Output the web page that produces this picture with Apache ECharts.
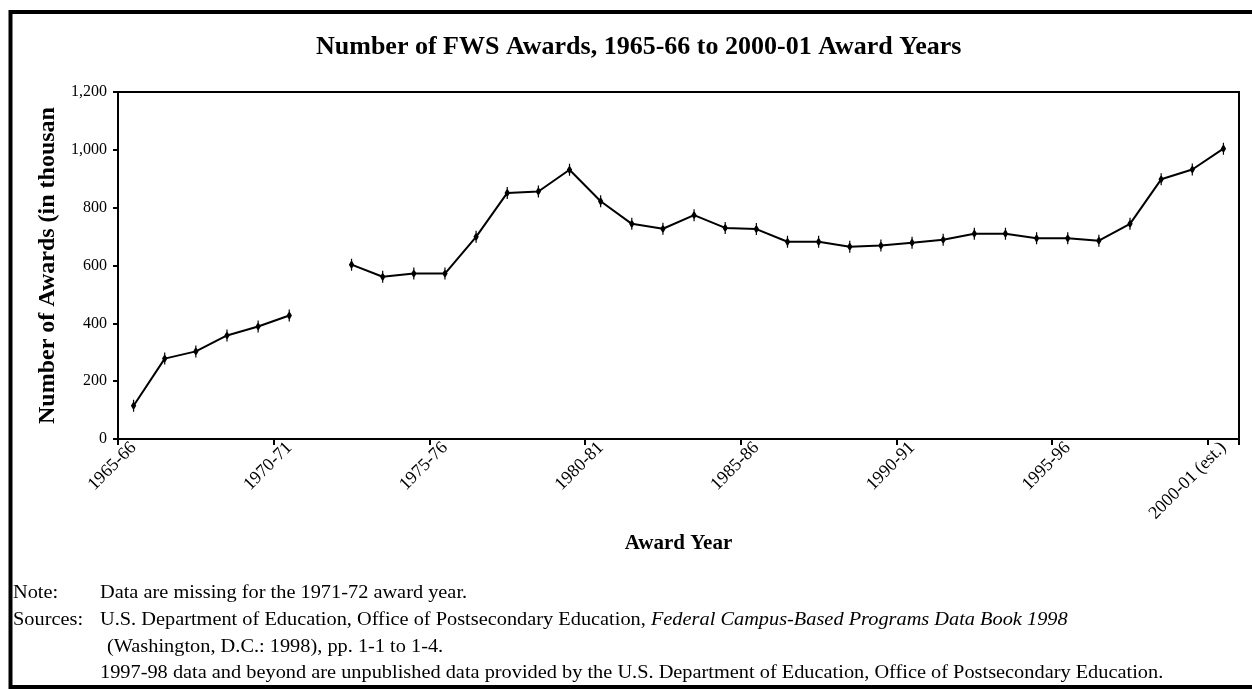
<!DOCTYPE html>
<html>
<head>
<meta charset="utf-8">
<script src="https://cdn.jsdelivr.net/npm/echarts@6/dist/echarts.min.js"></script>
<style>
html,body{margin:0;padding:0;background:#fff;}
#chart{width:1252px;height:689px;}
</style>
</head>
<body>
<div id="chart"></div>
<script>
// ---- data ----
const categories = [
  "1965-66","1966-67","1967-68","1968-69","1969-70","1970-71","1971-72","1972-73",
  "1973-74","1974-75","1975-76","1976-77","1977-78","1978-79","1979-80","1980-81",
  "1981-82","1982-83","1983-84","1984-85","1985-86","1986-87","1987-88","1988-89",
  "1989-90","1990-91","1991-92","1992-93","1993-94","1994-95","1995-96","1996-97",
  "1997-98","1998-99","1999-00","2000-01 (est.)"
];
// thousands of awards; 1971-72 missing
const awards = [
  115, 278, 303, 358, 389, 427, null, 603,
  561, 572, 572, 699, 851, 856, 931, 822,
  744, 727, 774, 730, 726, 682, 682, 665,
  669, 679, 689, 710, 710, 694, 694, 686,
  744, 898, 932, 1004
];
const yTicks = [0, 200, 400, 600, 800, 1000, 1200];
const titleText = "Number of FWS Awards, 1965-66 to 2000-01 Award Years";
const xName = "Award Year";
const yName = "Number of Awards (in thousan";
const noteLabel = "Note:";
const noteText = "Data are missing for the 1971-72 award year.";
const sourcesLabel = "Sources:";
const source1 = "U.S. Department of Education, Office of Postsecondary Education, ";
const source1Italic = "Federal Campus-Based Programs Data Book 1998";
const source2 = "(Washington, D.C.: 1998), pp. 1-1 to 1-4.";
const source3 = "1997-98 data and beyond are unpublished data provided by the U.S. Department of Education, Office of Postsecondary Education.";

const serif = '"Liberation Serif", "Times New Roman", serif';
const noteFont = '18px ' + serif;
const chart = echarts.init(document.getElementById('chart'), null, {renderer: 'canvas'});

function noteText_(x, y, text) {
  return {
    type: 'text', x: x, y: y, scaleX: 1.13, scaleY: 1,
    style: {text: text, font: noteFont, fill: '#000', verticalAlign: 'middle'}
  };
}

const option = {
  backgroundColor: '#fff',
  animation: false,
  title: {
    text: titleText,
    left: 311,
    top: 29,
    textStyle: {fontFamily: serif, fontWeight: 'bold', fontSize: 26, color: '#000'}
  },
  grid: {
    left: 118, right: 13, top: 92, bottom: 250,
    show: true, borderColor: '#000', borderWidth: 2, backgroundColor: 'transparent'
  },
  xAxis: {
    type: 'category',
    data: categories,
    boundaryGap: true,
    name: xName,
    nameLocation: 'middle',
    nameGap: 94,
    nameTextStyle: {fontFamily: serif, fontWeight: 'bold', fontSize: 21, color: '#000'},
    axisLine: {show: true, lineStyle: {color: '#000', width: 2}},
    axisTick: {show: true, interval: 4, length: 6, lineStyle: {color: '#000', width: 2}},
    axisLabel: {
      interval: 4, rotate: 45, margin: 6,
      fontFamily: serif, fontSize: 18, color: '#000'
    },
    splitLine: {show: false}
  },
  yAxis: {
    type: 'value',
    min: yTicks[0],
    max: yTicks[yTicks.length - 1],
    interval: yTicks[1] - yTicks[0],
    name: yName,
    nameLocation: 'middle',
    nameGap: 58,
    nameRotate: 90,
    nameTextStyle: {fontFamily: serif, fontWeight: 'bold', fontSize: 24, color: '#000'},
    axisLine: {show: true, lineStyle: {color: '#000', width: 2}},
    axisTick: {show: true, length: 5, lineStyle: {color: '#000', width: 2}},
    axisLabel: {
      margin: 11, fontFamily: serif, fontSize: 16, color: '#000',
      formatter: v => v.toLocaleString('en-US')
    },
    splitLine: {show: false}
  },
  series: [{
    type: 'line',
    data: awards,
    connectNulls: false,
    symbol: 'path://M-0.9,-6 L0.9,-6 L0.9,-3.6 L4,0 L0.9,3.6 L0.9,6 L-0.9,6 L-0.9,3.6 L-4,0 L-0.9,-3.6 Z',
    symbolSize: [8, 12],
    symbolKeepAspect: true,
    showAllSymbol: true,
    itemStyle: {color: '#000'},
    lineStyle: {color: '#000', width: 2}
  }],
  graphic: [
    {
      type: 'polyline',
      shape: {points: [[1260, 12], [10.5, 12], [10.5, 687], [1260, 687]]},
      style: {stroke: '#000', lineWidth: 4, fill: null}
    },
    noteText_(13, 593, noteLabel),
    noteText_(100, 593, noteText),
    noteText_(13, 620, sourcesLabel),
    {
      type: 'text', x: 100, y: 620, scaleX: 1.13, scaleY: 1,
      style: {
        text: '{n|' + source1 + '}{i|' + source1Italic + '}',
        verticalAlign: 'middle',
        rich: {
          n: {font: noteFont, fill: '#000'},
          i: {font: 'italic ' + noteFont, fill: '#000'}
        }
      }
    },
    noteText_(107, 647, source2),
    noteText_(100, 673, source3)
  ]
};
chart.setOption(option);
</script>
</body>
</html>
